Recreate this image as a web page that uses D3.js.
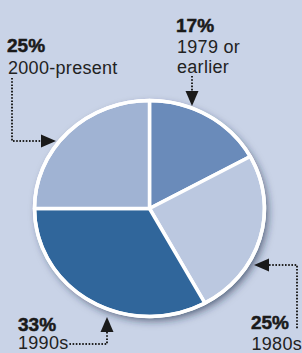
<!DOCTYPE html>
<html lang="en">
<head>
  <meta charset="UTF-8">
  <title>Era pie</title>
  <script src="https://d3js.org/d3.v7.min.js"></script>
  <style>
    body { margin: 0; background: #c9d3e7; }
    svg { display: block; }
    .pct { font: bold 19px "Liberation Sans", Arial, sans-serif; fill: #1a1a1a; stroke: #1a1a1a; stroke-width: 0.5; }
    .lbl { font: 18px "Liberation Sans", Arial, sans-serif; fill: #222; letter-spacing: 0.3px; }
    .lead { fill: none; stroke: #222; stroke-width: 2; stroke-dasharray: 1.6,1.6; }
    .head { fill: #1a1a1a; }
  </style>
</head>
<body>
<script>
  // data
  const periods = ["1979 or earlier", "1980s", "1990s", "2000-present"];
  const shares = [17, 25, 33, 25];
  const colors = ["#6a8bba", "#bbc8e0", "#30669b", "#a0b3d3"];

  const width = 302, height = 353;
  const cx = 149.5, cy = 208.5, rx = 115, ry = 108;

  const svg = d3.select("body").append("svg")
    .attr("width", width)
    .attr("height", height);

  svg.append("rect").attr("width", width).attr("height", height).attr("fill", "#c9d3e7");

  const defs = svg.append("defs");
  const f = defs.append("filter").attr("id", "shadow")
    .attr("x", "-20%").attr("y", "-20%").attr("width", "140%").attr("height", "140%");
  f.append("feDropShadow").attr("dx", 3).attr("dy", 4).attr("stdDeviation", 4.5)
    .attr("flood-color", "#1f2a45").attr("flood-opacity", 0.7);

  // pie (drawn as circle, squashed into the ellipse)
  const pie = d3.pie().sort(null).value(d => d)(shares);
  const arc = d3.arc().innerRadius(0).outerRadius(rx);

  const g = svg.append("g")
    .attr("transform", `translate(${cx},${cy}) scale(1,${ry / rx})`);

  g.append("circle").attr("r", rx).attr("fill", "#fff").attr("filter", "url(#shadow)");

  g.selectAll(".slice")
    .data(pie)
    .enter().append("path")
    .attr("class", "slice")
    .attr("d", arc)
    .attr("fill", (d, i) => colors[i])
    .attr("stroke", "#fff")
    .attr("stroke-width", 3.5)
    .attr("stroke-linejoin", "round")
    .attr("vector-effect", "non-scaling-stroke");

  g.append("circle").attr("r", rx).attr("fill", "none")
    .attr("stroke", "#fff").attr("stroke-width", 3.5)
    .attr("vector-effect", "non-scaling-stroke");

  function head(tip, dir) {
    // dir: unit vector the arrow points along
    const L = 15, W = 6.5;
    const bx = tip[0] - dir[0] * L, by = tip[1] - dir[1] * L;
    const px = -dir[1], py = dir[0];
    svg.append("path").attr("class", "head")
      .attr("d", `M${tip[0]},${tip[1]}L${bx + px * W},${by + py * W}L${bx - px * W},${by - py * W}Z`);
    return [bx, by];
  }

  // 2000-present (top left)
  {
    const tip = [56, 141];
    const b = head(tip, [1, 0]);
    svg.append("path").attr("class", "lead")
      .attr("d", `M12,78V${tip[1]}H${b[0]}`);
    svg.append("text").attr("class", "pct").attr("x", 7).attr("y", 52).text(shares[3] + "%");
    svg.append("text").attr("class", "lbl").attr("x", 8).attr("y", 74).text(periods[3]);
  }

  // 1979 or earlier (top right)
  {
    const tip = [192, 106];
    const b = head(tip, [0, 1]);
    svg.append("path").attr("class", "lead")
      .attr("d", `M${tip[0]},76V${b[1]}`);
    svg.append("text").attr("class", "pct").attr("x", 176).attr("y", 32).text(shares[0] + "%");
    const t = svg.append("text").attr("class", "lbl").attr("x", 177).attr("y", 53);
    t.append("tspan").text("1979 or");
    t.append("tspan").attr("x", 177).attr("dy", 20).text("earlier");
  }

  // 1980s (bottom right)
  {
    const tip = [254, 265];
    const b = head(tip, [-1, 0]);
    svg.append("path").attr("class", "lead")
      .attr("d", `M${b[0]},${tip[1]}H297V329`);
    svg.append("text").attr("class", "pct").attr("x", 289).attr("y", 329)
      .attr("text-anchor", "end").text(shares[1] + "%");
    svg.append("text").attr("class", "lbl").attr("x", 302).attr("y", 350)
      .attr("text-anchor", "end").text(periods[1]);
  }

  // 1990s (bottom left)
  {
    const tip = [107, 317];
    const b = head(tip, [0, -1]);
    svg.append("path").attr("class", "lead")
      .attr("d", `M${tip[0]},${b[1]}V344H68`);
    svg.append("text").attr("class", "pct").attr("x", 18).attr("y", 331).text(shares[2] + "%");
    svg.append("text").attr("class", "lbl").attr("x", 18).attr("y", 349).text(periods[2]);
  }
</script>
</body>
</html>
